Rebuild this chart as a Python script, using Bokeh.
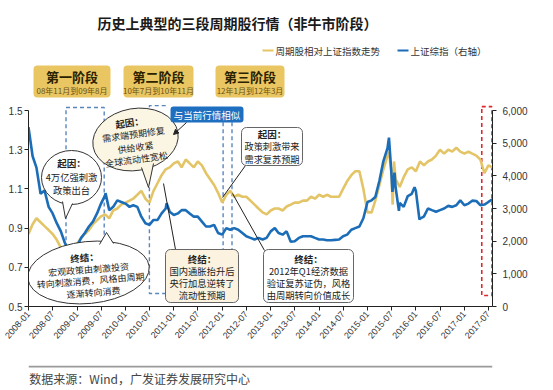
import pandas as pd
from bokeh.plotting import figure
from bokeh.layouts import column
from bokeh.models import (Range1d, LinearAxis, FixedTicker, NumeralTickFormatter,
                          DatetimeTickFormatter, Arrow, NormalHead)
from bokeh.core.properties import value
from bokeh.embed import file_html
from bokeh.resources import INLINE

CJK = "Noto Sans CJK SC"
LAT = "Liberation Sans"

# ---------------- data ----------------
title_text = "历史上典型的三段周期股行情（非牛市阶段）"
series_names = ["周期股相对上证指数走势", "上证综指（右轴）"]
phase_names = ["第一阶段", "第二阶段", "第三阶段"]
phase_periods = ["08年11月到09年8月", "10年7月到10年11月", "12年1月到12年3月"]
source_text = "数据来源：Wind，广发证券发展研究中心"

month_start = "2008-01-01"
# relative strength of cyclical stocks vs SSE (left axis), monthly
cyc_rel = [
    0.87, 0.92, 0.95, 0.93, 0.91, 0.89, 0.87, 0.84, 0.80, 0.78, 0.77, 0.79,
    0.82, 0.85, 0.87, 0.89, 0.92, 0.94, 0.96, 0.97, 0.95, 0.99, 1.00, 1.02,
    1.03, 1.04, 1.05, 1.07, 1.09, 1.05, 1.03, 1.09, 1.13, 1.17, 1.20, 1.21,
    1.23, 1.24, 1.21, 1.25, 1.23, 1.21, 1.24, 1.22, 1.18, 1.15, 1.12, 1.08,
    1.03, 1.07, 1.09, 1.06, 1.07, 1.06, 1.06, 1.04, 1.02, 1.00, 0.98, 0.97,
    0.99, 1.00, 1.00, 0.99, 1.01, 1.02, 1.03, 1.03, 1.04, 1.04, 1.06, 1.05,
    1.07, 1.06, 1.07, 1.06, 1.06, 1.06, 1.10, 1.14, 1.17, 1.19, 1.19, 1.10,
    0.98, 0.98, 1.04, 1.12, 1.20, 1.27, 1.18, 1.15, 1.11, 1.16, 1.20, 1.21,
    1.19, 1.24, 1.22, 1.24, 1.25, 1.27, 1.30, 1.28, 1.30, 1.29, 1.31, 1.29,
    1.28, 1.29, 1.28, 1.27, 1.25, 1.18, 1.22, 1.21,
]
cyc_extra_dates = ["2015-06-12", "2015-07-10", "2015-07-20"]
cyc_extra = [1.29, 1.02, 1.24]

# Shanghai Composite (right axis), monthly
sh_index = [
    5490, 4600, 4250, 3450, 3550, 3050, 2850, 2550, 2300, 1950, 1750, 1880,
    1850, 2100, 2250, 2450, 2600, 2850, 3150, 3400, 2950, 3050, 3250, 3200,
    3150, 3050, 3100, 3050, 2750, 2550, 2500, 2650, 2650, 2850, 3000, 2900,
    2800, 2850, 2950, 2950, 2850, 2750, 2750, 2600, 2450, 2450, 2500, 2250,
    2200, 2400, 2350, 2400, 2350, 2250, 2150, 2100, 2050, 2100, 2050, 2100,
    2300, 2400, 2250, 2200, 2300, 1980, 2000, 2100, 2150, 2150, 2150, 2100,
    2050, 2050, 2030, 2030, 2040, 2050, 2150, 2200, 2350, 2400, 2450, 2700,
    3200, 3250, 3350, 3850, 4450, 4850, 4050, 3650, 3170, 3050, 3380, 3450,
    3540, 2690, 2750, 3000, 2950, 2900, 2950, 3000, 3080, 3050, 3100, 3250,
    3100, 3150, 3240, 3230, 3100, 3120, 3200, 3280,
]
sh_extra_dates = ["2008-10-28", "2009-08-04", "2010-11-08", "2015-06-12", "2015-07-08",
                  "2015-07-24", "2015-08-26", "2015-12-22", "2016-01-28"]
sh_extra = [1700, 3470, 3160, 5170, 3510, 4100, 2930, 3650, 2660]

x_tick_labels = ["2008-01", "2008-07", "2009-01", "2009-07", "2010-01", "2010-07",
                 "2011-01", "2011-07", "2012-01", "2012-07", "2013-01", "2013-07",
                 "2014-01", "2014-07", "2015-01", "2015-07", "2016-01", "2016-07",
                 "2017-01", "2017-07"]
left_ticks = [0.5, 0.7, 0.9, 1.1, 1.3, 1.5]
right_ticks = [0, 1000, 2000, 3000, 4000, 5000, 6000]

# phase windows (dates)
phase1_window = ["2008-10-10", "2009-07-25"]
phase2_window = ["2010-07-01", "2010-11-01"]
phase3_lines = ["2012-01-08", "2012-03-15"]
current_window = ["2017-05-12", "2017-07-28"]

# ---------------- build series ----------------
def ms(d):
    return pd.Timestamp(d).value / 1e6

months = pd.date_range(month_start, periods=len(cyc_rel), freq="MS")
cyc = pd.concat([pd.Series(cyc_rel, index=months),
                 pd.Series(cyc_extra, index=pd.to_datetime(cyc_extra_dates))]).sort_index()
sh = pd.concat([pd.Series(sh_index, index=months),
                pd.Series(sh_extra, index=pd.to_datetime(sh_extra_dates))]).sort_index()

# ---------------- layout helpers ----------------
W, H = 545, 365
FX0, FX1 = 28, 492        # px of frame left/right
FY0, FY1 = 0, 306         # px of frame top/bottom
PXU = 196.0               # px per 1.0 on left axis
X0, X1 = ms("2008-01-01"), ms("2017-08-01")
YTOP = 0.5 + (FY1 - FY0) / PXU


def PX(px):
    return X0 + (px - FX0) / (FX1 - FX0) * (X1 - X0)


def PY(py):
    return 0.5 + (FY1 - py) / PXU


YELLOW = "#E3C567"
BLUE = "#1C6DB8"
DBLUE = "#5A86BE"
RED = "#E0262B"
GOLD = "#E9C662"

p = figure(width=W, height=H, x_axis_type="datetime",
           x_range=Range1d(X0, X1), y_range=Range1d(0.5, YTOP),
           output_backend="svg", toolbar_location=None,
           min_border_left=FX0, min_border_right=W - FX1,
           min_border_top=FY0, min_border_bottom=H - FY1)
p.extra_y_ranges = {"sh": Range1d(0, (YTOP - 0.5) * 6000)}
p.grid.visible = False
p.outline_line_color = None
p.background_fill_color = "white"
p.border_fill_color = "white"

right = LinearAxis(y_range_name="sh", bounds=(0, 6000),
                   ticker=FixedTicker(ticks=right_ticks),
                   formatter=NumeralTickFormatter(format="0,0"))
p.add_layout(right, "right")
p.yaxis[0].bounds = (0.5, 1.5)
p.yaxis[0].ticker = FixedTicker(ticks=left_ticks)
p.xaxis[0].ticker = FixedTicker(ticks=[ms(t + "-01") for t in x_tick_labels])
p.xaxis[0].formatter = DatetimeTickFormatter(years="%Y-%m", months="%Y-%m", days="%Y-%m")
p.xaxis[0].major_label_orientation = 0.85

for ax in p.axis:
    ax.axis_line_color = "#222222"
    ax.major_tick_line_color = "#222222"
    ax.major_tick_in = 0
    ax.major_tick_out = 4
    ax.minor_tick_line_color = None
    ax.major_label_standoff = 2
    ax.major_label_text_font = LAT
    ax.major_label_text_font_size = "10px"
    ax.major_label_text_color = "#333333"
p.xaxis[0].major_label_text_font_size = "9px"
right.major_label_standoff = 6

# dashed phase outlines
a, b = ms(phase1_window[0]), ms(phase1_window[1])
p.multi_line(xs=[[a, b, b, a, a]], ys=[[1.515, 1.515, 0.55, 0.55, 1.515]],
             line_color=DBLUE, line_dash="4 3", line_width=1.4)
a, b = ms(phase2_window[0]), ms(phase2_window[1])
p.multi_line(xs=[[b, a, a, b]], ys=[[1.525, 1.525, 0.566, 0.566]],
             line_color=DBLUE, line_dash="4 3", line_width=1.4)
p.multi_line(xs=[[ms(d), ms(d)] for d in phase3_lines], ys=[[1.44, 0.6], [1.44, 0.6]],
             line_color=DBLUE, line_dash="4 3", line_width=1.4)
a, b = ms(current_window[0]), ms(current_window[1])
p.multi_line(xs=[[a, b, b, a, a]], ys=[[1.52, 1.52, 0.556, 0.556, 1.52]],
             line_color=RED, line_dash="4 3", line_width=1.6)

# data lines
p.line(cyc.index, cyc.values, line_color=YELLOW, line_width=2.6)
p.line(sh.index, sh.values, line_color=BLUE, line_width=2.6, y_range_name="sh")


def txt(px, py, s, size="9.3px", bold=False, color="#222222", align="center",
        angle=0.0, font=CJK):
    p.text(x=[PX(px)], y=[PY(py)], text=[s], text_font=value(font),
           text_font_size=value(size), text_font_style="bold" if bold else "normal",
           text_color=color, text_align=align, text_baseline="middle", angle=angle)


def box(x0, y0, x1, y1, fill, line="#666666", r=5):
    p.quad(left=[PX(x0)], right=[PX(x1)], top=[PY(y0)], bottom=[PY(y1)],
           fill_color=fill, line_color=line, line_width=1, border_radius=r)


def seg(x0, y0, x1, y1, color="#222222", w=1.0):
    p.line([PX(x0), PX(x1)], [PY(y0), PY(y1)], line_color=color, line_width=w)


def callout(cx, cy, w, h, ang, fill, tail):
    p.ellipse(x=[PX(cx)], y=[PY(cy)], width=[w], height=[h], width_units="screen",
              height_units="screen", angle=ang, fill_color=fill, line_color="#333333",
              line_width=1)
    (ax_, ay_), (bx_, by_), (tx_, ty_) = tail
    p.patch([PX(ax_), PX(bx_), PX(tx_)], [PY(ay_), PY(by_), PY(ty_)],
            fill_color=fill, line_color=None)
    seg(ax_, ay_, tx_, ty_, "#333333")
    seg(bx_, by_, tx_, ty_, "#333333")


# ---------------- header ----------------
txt(237, 22, title_text, size="14px", bold=True, color="#1a1a1a")
seg(262, 50, 273, 50, YELLOW, 2)
txt(275, 50, series_names[0], size="9.5px", color="#333333", align="left")
seg(397, 50, 408, 50, BLUE, 2)
txt(410, 50, series_names[1], size="9.5px", color="#333333", align="left")

phase_px = [(33, 110), (123, 193), (215, 284)]
for (x0, x1), nm, per in zip(phase_px, phase_names, phase_periods):
    box(x0, 65, x1, 97, GOLD, line=None, r=4)
    txt((x0 + x1) / 2, 76, nm, size="13px", bold=True, color="#2b2200")
    txt((x0 + x1) / 2, 90, per, size="8px", color="#6e5210")

# ---------------- callouts ----------------
callout(71, 177, 60, 54, 0.0, "white", ((62, 201), (72, 203), (65, 218)))
txt(71, 162, "起因：", size="9.5px", bold=True)
txt(71, 176, "4万亿强刺激", size="9.3px")
txt(71, 189, "政策出台", size="9.3px")

callout(135, 139, 86, 62, 0.17, "#FBF5E3", ((141, 167), (153, 163), (148, 187)))
txt(129, 122, "起因：", size="9.5px", bold=True, angle=0.14)
txt(133, 134, "需求端预期修复", size="9px", angle=0.14)
txt(135, 147, "供给收紧", size="9px", angle=0.14)
txt(136, 159, "全球流动性宽松", size="9px", angle=0.14)

callout(88, 272, 122, 62, 0.1, "white", ((99, 244), (113, 243), (106, 232)))
txt(84, 257, "终结：", size="9.5px", bold=True, angle=0.08)
txt(88, 269, "宏观政策由刺激投资", size="9px", angle=0.08)
txt(90, 280, "转向刺激消费，风格由周期", size="9px", angle=0.08)
txt(93, 292, "逐渐转向消费", size="9px", angle=0.08)

# blue label + arrow
box(170, 106, 243, 122, "#1F6FC0", line=None, r=3)
txt(206.5, 114.5, "与当前行情相似", size="9.5px", color="white")
p.add_layout(Arrow(x_start=PX(186), y_start=PY(122), x_end=PX(173), y_end=PY(134),
                   line_color="#222222", line_width=1,
                   end=NormalHead(size=5, fill_color="#222222", line_color="#222222")))

# connectors
seg(245, 165, 222, 197)
seg(175, 249, 163, 183)
seg(264, 250, 232, 193)

# boxes
box(241, 127, 302, 165, "white")
txt(271.5, 133, "起因：", size="9.5px", bold=True)
txt(271.5, 145, "政策刺激带来", size="9.2px")
txt(271.5, 158, "需求复苏预期", size="9.2px")

box(165, 249, 238, 302, "#FBF3E0")
txt(201.5, 258, "终结：", size="9.5px", bold=True)
txt(201.5, 270, "国内通胀抬升后", size="9.3px")
txt(201.5, 282, "央行加息逆转了", size="9.3px")
txt(201.5, 294, "流动性预期", size="9.3px")

box(263, 249, 353, 302, "white")
txt(308, 258, "终结：", size="9.5px", bold=True)
txt(308, 270, "2012年Q1经济数据", size="9.3px")
txt(308, 282, "验证复苏证伪，风格", size="9.3px")
txt(308, 294, "由周期转向价值成长", size="9.3px")

# ---------------- footer ----------------
f = figure(width=W, height=22, x_range=Range1d(0, W), y_range=Range1d(0, 22),
           output_backend="svg", toolbar_location=None, min_border=0,
           x_axis_location=None, y_axis_location=None)
f.grid.visible = False
f.outline_line_color = None
f.line([0, W], [21, 21], line_color="#9a9a9a", line_width=2)
f.text(x=[1], y=[9], text=[source_text], text_font=value(CJK),
       text_font_size=value("12px"), text_color="#444444", text_align="left",
       text_baseline="middle")

layout = column(p, f, spacing=0)
open("out.html", "w").write(file_html(layout, INLINE))
